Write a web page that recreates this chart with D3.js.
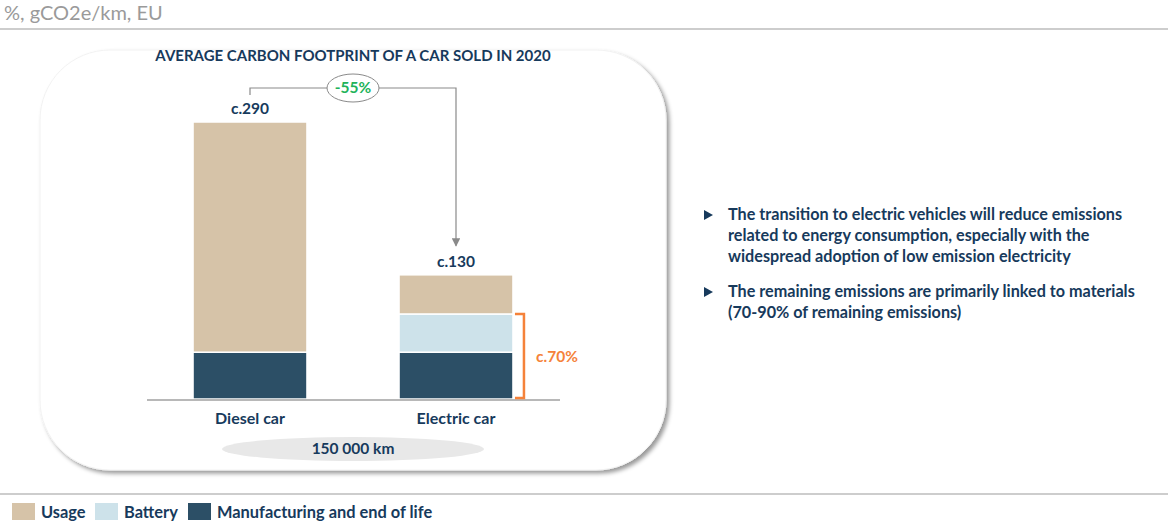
<!DOCTYPE html>
<html>
<head>
<meta charset="utf-8">
<script src="https://cdn.jsdelivr.net/npm/d3@7"></script>
<style>
  body { margin: 0; background: #fff; }
  svg text { font-family: Lato, "Open Sans", sans-serif; }
  .navy { fill: #173a5c; font-weight: bold; }
</style>
</head>
<body>
<div id="viz"></div>
<script>
const width = 1168;
const height = 523;

// data
const cars = ["Diesel car", "Electric car"];
const series = ["Manufacturing and end of life", "Battery", "Usage"];
const manufacturing = [49, 49];
const battery = [0, 40];
const usage = [241, 41];
const totalLabels = ["c.290", "c.130"];
const legendLabels = ["Usage", "Battery", "Manufacturing and end of life"];
const colors = { "Usage": "#d6c3a8", "Battery": "#cde2ea", "Manufacturing and end of life": "#2c4f66" };
const bullets = [
  ["The transition to electric vehicles will reduce emissions",
   "related to energy consumption, especially with the",
   "widespread adoption of low emission electricity"],
  ["The remaining emissions are primarily linked to materials",
   "(70-90% of remaining emissions)"]
];

const svg = d3.select("#viz").append("svg")
    .attr("width", width)
    .attr("height", height);

const defs = svg.append("defs");
const shadow = defs.append("filter").attr("id", "shadow")
    .attr("x", "-10%").attr("y", "-10%").attr("width", "120%").attr("height", "120%");
shadow.append("feDropShadow")
    .attr("dx", 3).attr("dy", 3).attr("stdDeviation", 2)
    .attr("flood-color", "#000").attr("flood-opacity", 0.4);

// unit header
svg.append("text")
    .attr("x", 4).attr("y", 20)
    .style("font-size", "20px").style("fill", "#9a9a9a")
    .text("%, gCO2e/km, EU");
svg.append("line")
    .attr("x1", 0).attr("x2", width).attr("y1", 29).attr("y2", 29)
    .style("stroke", "#bdbdbd").style("stroke-width", 1.5);

// panel
svg.append("rect")
    .attr("x", 40).attr("y", 50).attr("width", 626).attr("height", 420)
    .attr("rx", 70).attr("ry", 70)
    .style("fill", "#fff").style("stroke", "#f2f2f2")
    .attr("filter", "url(#shadow)");

svg.append("text")
    .attr("class", "navy")
    .attr("x", 353).attr("y", 61)
    .attr("text-anchor", "middle")
    .style("font-size", "15px")
    .text("AVERAGE CARBON FOOTPRINT OF A CAR SOLD IN 2020");

// scales
const xScale = d3.scaleBand().domain(cars).range([147, 559]).paddingInner(0.447).paddingOuter(0.2235);
const yScale = d3.scaleLinear().domain([0, 290]).range([399, 122]);

const rows = cars.map(function(c, i) {
    return { car: c, "Manufacturing and end of life": manufacturing[i], "Battery": battery[i], "Usage": usage[i] };
});
const stacked = d3.stack().keys(series)(rows);

svg.append("g").selectAll("g")
    .data(stacked)
    .enter().append("g")
    .style("fill", function(d) { return colors[d.key]; })
    .selectAll("rect")
    .data(function(d) { return d.filter(function(p) { return p[1] > p[0]; }); })
    .enter().append("rect")
    .attr("x", function(d) { return xScale(d.data.car); })
    .attr("width", xScale.bandwidth())
    .attr("y", function(d) { return yScale(d[1]); })
    .attr("height", function(d) { return yScale(d[0]) - yScale(d[1]); })
    .style("stroke", "#fff").style("stroke-width", 1.5);

// baseline axis
svg.append("line")
    .attr("x1", 147).attr("x2", 560)
    .attr("y1", yScale(0) + 1).attr("y2", yScale(0) + 1)
    .style("stroke", "#b8b8b8").style("stroke-width", 2);

const totals = cars.map(function(c, i) { return manufacturing[i] + battery[i] + usage[i]; });

svg.append("g").selectAll("text")
    .data(cars)
    .enter().append("text")
    .attr("class", "navy")
    .attr("x", function(d) { return xScale(d) + xScale.bandwidth() / 2; })
    .attr("y", function(d, i) { return yScale(totals[i]) - 8; })
    .attr("text-anchor", "middle")
    .style("font-size", "15.5px")
    .text(function(d, i) { return totalLabels[i]; });

svg.append("g").selectAll("text")
    .data(cars)
    .enter().append("text")
    .attr("class", "navy")
    .attr("x", function(d) { return xScale(d) + xScale.bandwidth() / 2; })
    .attr("y", 424)
    .attr("text-anchor", "middle")
    .style("font-size", "16px")
    .text(function(d) { return d; });

// -55% connector
const cx0 = xScale(cars[0]) + xScale.bandwidth() / 2;
const cx1 = xScale(cars[1]) + xScale.bandwidth() / 2;
const connY = 88;
defs.append("marker").attr("id", "arrow")
    .attr("viewBox", "0 0 10 10").attr("refX", 9).attr("refY", 5)
    .attr("markerWidth", 7).attr("markerHeight", 7).attr("orient", "auto")
    .append("path").attr("d", "M0,0 L10,5 L0,10 Z").style("fill", "#8a8a8a");
svg.append("path")
    .attr("d", "M" + cx0 + "," + (yScale(totals[0]) - 27) + " V" + connY + " H" + cx1 + " V" + (yScale(totals[1]) - 29))
    .style("fill", "none").style("stroke", "#8a8a8a").style("stroke-width", 1.2)
    .attr("marker-end", "url(#arrow)");
svg.append("ellipse")
    .attr("cx", (cx0 + cx1) / 2).attr("cy", connY).attr("rx", 26).attr("ry", 14)
    .style("fill", "#fff").style("stroke", "#8a8a8a").style("stroke-width", 1);
svg.append("text")
    .attr("x", (cx0 + cx1) / 2).attr("y", connY + 5)
    .attr("text-anchor", "middle")
    .style("font-size", "15.5px").style("font-weight", "bold").style("fill", "#22b35a")
    .text("-55%");

// c.70% bracket
const bx = xScale(cars[1]) + xScale.bandwidth() + 11;
const bTop = yScale(manufacturing[1] + battery[1]);
svg.append("path")
    .attr("d", "M" + (bx - 9) + "," + bTop + " H" + bx + " V" + (yScale(0) - 1) + " H" + (bx - 9))
    .style("fill", "none").style("stroke", "#f5823a").style("stroke-width", 2.5);
svg.append("text")
    .attr("x", 557).attr("y", (bTop + yScale(0)) / 2 + 6)
    .attr("text-anchor", "middle")
    .style("font-size", "15.5px").style("font-weight", "bold").style("fill", "#f5823a")
    .text("c.70%");

// 150 000 km
svg.append("ellipse")
    .attr("cx", (cx0 + cx1) / 2).attr("cy", 449).attr("rx", 131).attr("ry", 12)
    .style("fill", "#e8e8e8");
svg.append("text")
    .attr("class", "navy")
    .attr("x", (cx0 + cx1) / 2).attr("y", 454)
    .attr("text-anchor", "middle")
    .style("font-size", "15.5px")
    .text("150 000 km");

// right-hand bullets
const bulletStarts = [215, 292];
bullets.forEach(function(lines, b) {
    const g = svg.append("g");
    g.append("path")
        .attr("d", "M704," + (bulletStarts[b] - 5) + " l9,5 l-9,5 Z")
        .style("fill", "#173a5c");
    g.selectAll("text")
        .data(lines)
        .enter().append("text")
        .attr("class", "navy")
        .attr("x", 728)
        .attr("y", function(d, i) { return bulletStarts[b] + 5 + i * 21; })
        .style("font-size", "16.2px")
        .text(function(d) { return d; });
});

// legend
svg.append("line")
    .attr("x1", 0).attr("x2", width).attr("y1", 494).attr("y2", 494)
    .style("stroke", "#bdbdbd").style("stroke-width", 1.5);
const legendX = [12, 95, 188];
const legend = svg.append("g").selectAll("g")
    .data(legendLabels)
    .enter().append("g")
    .attr("transform", function(d, i) { return "translate(" + legendX[i] + ",503)"; });
legend.append("rect")
    .attr("width", 23).attr("height", 17)
    .style("fill", function(d) { return colors[d]; });
legend.append("text")
    .attr("class", "navy")
    .attr("x", 29).attr("y", 15)
    .style("font-size", "16.4px")
    .text(function(d) { return d; });
</script>
</body>
</html>
